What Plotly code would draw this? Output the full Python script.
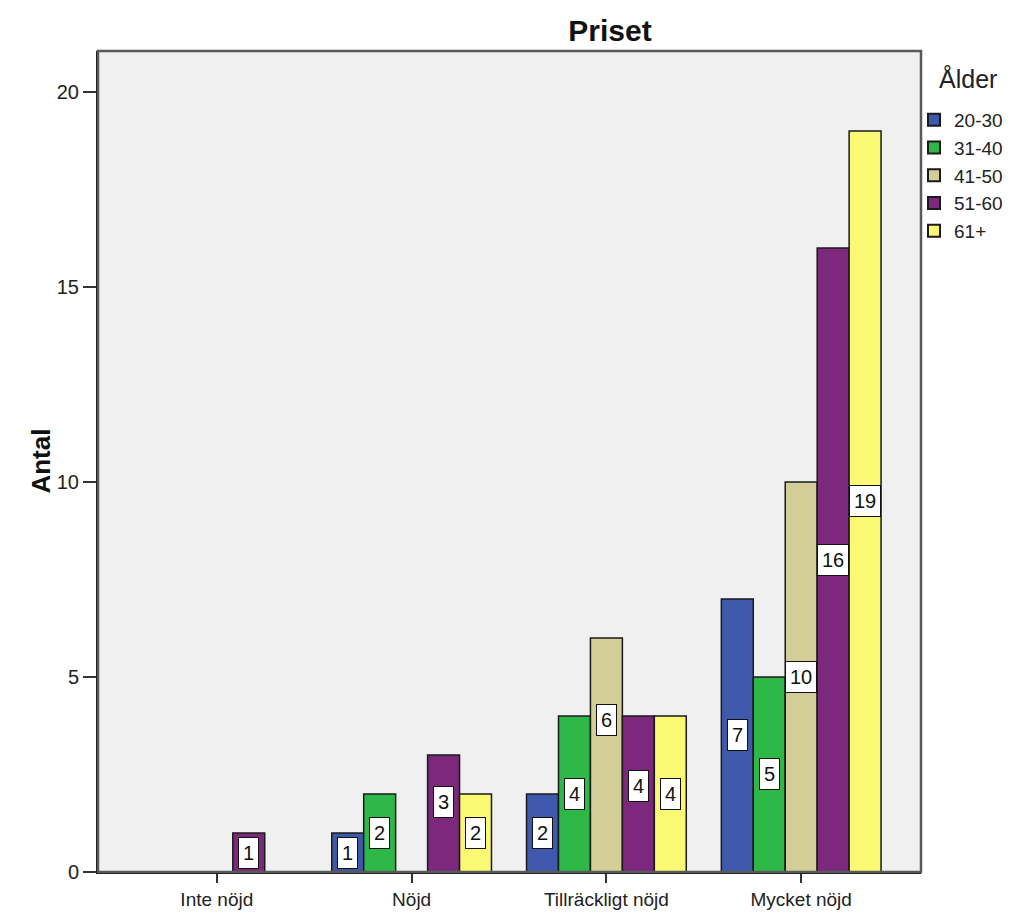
import plotly.graph_objects as go

# Survey counts: satisfaction with price ("Priset") by age group ("Ålder")
categories = ["Inte nöjd", "Nöjd", "Tillräckligt nöjd", "Mycket nöjd"]
age_groups = ["20-30", "31-40", "41-50", "51-60", "61+"]
counts = {
    "20-30": [0, 1, 2, 7],
    "31-40": [0, 2, 4, 5],
    "41-50": [0, 0, 6, 10],
    "51-60": [1, 3, 4, 16],
    "61+":   [0, 2, 4, 19],
}
y_ticks = [0, 5, 10, 15, 20]

colors = ["#3E58AC", "#2EB848", "#D3CE97", "#7C287D", "#FBF873"]
FONT = "Liberation Sans, Arial, sans-serif"

BARGAP = 0.18
n_groups = len(age_groups)
slot = (1 - BARGAP) / n_groups

# small vertical nudges (in data units) for labels that would otherwise collide
label_nudge = {("41-50", 2): 0.9, ("51-60", 2): 0.2, ("51-60", 1): 0.3}

fig = go.Figure()
annotations = []
for gi, (grp, col) in enumerate(zip(age_groups, colors)):
    vals = counts[grp]
    fig.add_trace(go.Bar(
        name=grp,
        x=categories,
        y=[v if v > 0 else None for v in vals],
        marker=dict(color=col, line=dict(color="#1a1a1a", width=1.5)),
    ))
    for ci, v in enumerate(vals):
        if v <= 0:
            continue
        annotations.append(dict(
            x=ci + (gi - (n_groups - 1) / 2) * slot,
            y=v / 2 + label_nudge.get((grp, ci), 0),
            xref="x", yref="y",
            text=str(v), showarrow=False,
            font=dict(family=FONT, size=20, color="#111"),
            bgcolor="white", bordercolor="#111", borderwidth=1, borderpad=4,
        ))

W, H = 1012, 913
ml, mr, mt, mb = 98, 91, 51, 41
pw, ph = W - ml - mr, H - mt - mb

# y-axis title
annotations.append(dict(
    x=-0.091, y=0.5, xref="paper", yref="paper", text="<b>Antal</b>", showarrow=False,
    textangle=-90, font=dict(family=FONT, size=26, color="#111"),
))
# legend heading
annotations.append(dict(
    x=(937 - ml) / pw, y=(H - mb - 78) / ph, xref="paper", yref="paper",
    xanchor="left", yanchor="middle", text="Ålder", showarrow=False,
    font=dict(family=FONT, size=25, color="#222"),
))

fig.update_layout(
    width=W, height=H,
    margin=dict(l=ml, r=mr, t=mt, b=mb, pad=0, autoexpand=False),
    title=dict(
        text="<b>Priset</b>", xref="container", yref="container",
        x=610 / W, y=1 - 30 / H, xanchor="center", yanchor="middle",
        font=dict(family=FONT, size=30, color="#111"),
    ),
    barmode="group", bargap=BARGAP, bargroupgap=0,
    plot_bgcolor="#F0F0F0", paper_bgcolor="white",
    font=dict(family=FONT, size=20, color="#222"),
    showlegend=True,
    legend=dict(
        xref="container", yref="container",
        x=914 / W, xanchor="left", y=1 - 101 / H, yanchor="top",
        font=dict(size=19, color="#222"),
        itemsizing="constant", tracegroupgap=0,
        bgcolor="rgba(0,0,0,0)",
    ),
    annotations=annotations,
    shapes=[dict(
        type="rect", xref="paper", yref="paper", x0=0, x1=1, y0=0, y1=1,
        line=dict(color="#5a5a5a", width=2.5), layer="above",
    )],
)

fig.update_xaxes(
    type="category", range=[-0.61, 3.615],
    showline=True, linecolor="#111", linewidth=2,
    ticks="outside", ticklen=9, tickwidth=2, tickcolor="#333",
    showgrid=False, zeroline=False, automargin=False,
    tickfont=dict(size=19, color="#222"),
)
fig.update_yaxes(
    range=[0, 21.05], tickvals=y_ticks,
    showline=True, linecolor="#111", linewidth=2,
    ticks="outside", ticklen=13, tickwidth=2, tickcolor="#333",
    showgrid=False, zeroline=False, automargin=False,
    tickfont=dict(size=20, color="#222"),
)

fig.write_html("out.html")
